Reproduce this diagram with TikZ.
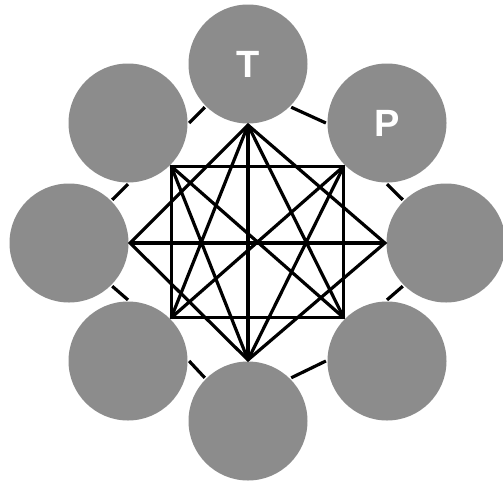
\documentclass[tikz,border=0pt]{standalone}
\usepackage{fontspec}
\setmainfont{Liberation Sans}
\definecolor{ballgray}{RGB}{140,140,140}
\begin{document}
\begin{tikzpicture}[ x=1pt, y=-1pt, line width=3.2pt,
  ball/.style={circle, fill=ballgray, minimum size=119pt, inner sep=0pt,
    text=white, font=\fontsize{38}{38}\selectfont\bfseries} ]

\useasboundingbox (0,0) rectangle (503,485);
\clip (0,0) rectangle (503,485);

\node[ball] (t)  at (248,64)  {T};
\node[ball] (tr) at (387,123) {\raisebox{-3pt}{P}};
\node[ball] (r)  at (446,243) {};
\node[ball] (br) at (387,361) {};
\node[ball] (b)  at (248,421) {};
\node[ball] (bl) at (128,361) {};
\node[ball] (l)  at (69,243)  {};
\node[ball] (tl) at (128,123) {};

\foreach \p/\i/\q/\j in {tl/0/t/225, t/315/tr/180, tr/270/r/135, r/225/br/90,
                        br/180/b/45, b/135/bl/0, bl/90/l/315, l/45/tl/270}
  \draw (\p.\i) -- (\q.\j);

\coordinate (n)  at (t.south);
\coordinate (s)  at (b.north);
\coordinate (w)  at (l.east);
\coordinate (e)  at (r.west);
\coordinate (nw) at (tl.-45);
\coordinate (ne) at (tr.-135);
\coordinate (se) at (br.135);
\coordinate (sw) at (bl.45);

\draw (n) -- (w) -- (s) -- (e) -- cycle;
\draw (n) -- (s) (w) -- (e);
\draw (nw) -- (ne) -- (se) -- (sw) -- cycle;
\draw (nw) -- (se) (ne) -- (sw);
\draw (n) -- (sw) (n) -- (se) (s) -- (nw) (s) -- (ne);

\end{tikzpicture}
\end{document}
